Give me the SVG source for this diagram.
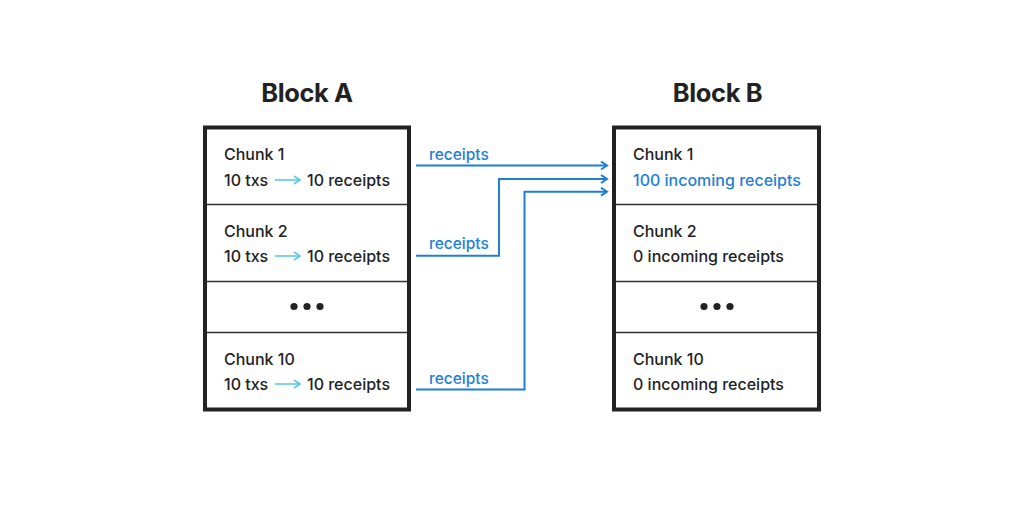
<svg xmlns="http://www.w3.org/2000/svg" width="1024" height="512" viewBox="0 0 1024 512">
<defs>
<style>
.t{font-family:Inter,"Liberation Sans",sans-serif;font-size:16px;font-weight:500;fill:#222}
.title{font-family:Inter,"Liberation Sans",sans-serif;font-size:25.5px;font-weight:700;fill:#222;text-anchor:middle;letter-spacing:-0.4px}
.blue{fill:#1d7fd8}
.lbl{font-family:Inter,"Liberation Sans",sans-serif;font-size:15.5px;font-weight:500;fill:#1d7fd8}
.box{fill:#fff;stroke:#222;stroke-width:4}
.div{stroke:#333;stroke-width:1.5}
.conn{fill:none;stroke:#1d7fd8;stroke-width:2}
.tx{stroke:#5cc9e8;stroke-width:1.6;fill:none}
</style>
<marker id="ah" markerWidth="10" markerHeight="10" refX="8" refY="5" orient="auto" markerUnits="userSpaceOnUse">
<path d="M2,1 L8,5 L2,9" fill="none" stroke="#1d7fd8" stroke-width="2"/>
</marker>
<marker id="ahc" markerWidth="10" markerHeight="10" refX="8" refY="5" orient="auto" markerUnits="userSpaceOnUse">
<path d="M2,1 L8,5 L2,9" fill="none" stroke="#5cc9e8" stroke-width="1.6"/>
</marker>
</defs>
<rect width="1024" height="512" fill="#fff"/>
<g id="blockA">
<text class="title" x="307" y="102">Block A</text>
<rect class="box" x="205" y="127.5" width="204" height="282"/>
<line class="div" x1="207" y1="204.5" x2="407" y2="204.5"/>
<line class="div" x1="207" y1="281.5" x2="407" y2="281.5"/>
<line class="div" x1="207" y1="332.5" x2="407" y2="332.5"/>
<g id="a-chunk1">
<text class="t" x="224" y="160">Chunk 1</text>
<text class="t" x="224" y="186">10 txs</text>
<line class="tx" x1="275" y1="180" x2="300" y2="180" marker-end="url(#ahc)"/>
<text class="t" x="307" y="186">10 receipts</text>
</g>
<g id="a-chunk2">
<text class="t" x="224" y="237">Chunk 2</text>
<text class="t" x="224" y="262">10 txs</text>
<line class="tx" x1="275" y1="256" x2="300" y2="256" marker-end="url(#ahc)"/>
<text class="t" x="307" y="262">10 receipts</text>
</g>
<g id="a-dots" fill="#222">
<circle cx="294" cy="306.5" r="3.6"/>
<circle cx="307" cy="306.5" r="3.6"/>
<circle cx="320" cy="306.5" r="3.6"/>
</g>
<g id="a-chunk10">
<text class="t" x="224" y="365">Chunk 10</text>
<text class="t" x="224" y="390">10 txs</text>
<line class="tx" x1="275" y1="384" x2="300" y2="384" marker-end="url(#ahc)"/>
<text class="t" x="307" y="390">10 receipts</text>
</g>
</g>
<g id="blockB">
<text class="title" x="717.5" y="102">Block B</text>
<rect class="box" x="614" y="127.5" width="205" height="282"/>
<line class="div" x1="616" y1="204.5" x2="817" y2="204.5"/>
<line class="div" x1="616" y1="281.5" x2="817" y2="281.5"/>
<line class="div" x1="616" y1="332.5" x2="817" y2="332.5"/>
<g id="b-chunk1">
<text class="t" x="633" y="160">Chunk 1</text>
<text class="t blue" x="633" y="186">100 incoming receipts</text>
</g>
<g id="b-chunk2">
<text class="t" x="633" y="237">Chunk 2</text>
<text class="t" x="633" y="262">0 incoming receipts</text>
</g>
<g id="b-dots" fill="#222">
<circle cx="704" cy="306.5" r="3.6"/>
<circle cx="717" cy="306.5" r="3.6"/>
<circle cx="730" cy="306.5" r="3.6"/>
</g>
<g id="b-chunk10">
<text class="t" x="633" y="365">Chunk 10</text>
<text class="t" x="633" y="390">0 incoming receipts</text>
</g>
</g>
<g id="connectors">
<path class="conn" d="M416,165.5 H607" marker-end="url(#ah)"/>
<path class="conn" d="M416,255.7 H499 V179 H607" marker-end="url(#ah)"/>
<path class="conn" d="M416,389.5 H524.5 V191.7 H607" marker-end="url(#ah)"/>
<text class="lbl" x="429" y="160">receipts</text>
<text class="lbl" x="429" y="249">receipts</text>
<text class="lbl" x="429" y="384">receipts</text>
</g>
</svg>
